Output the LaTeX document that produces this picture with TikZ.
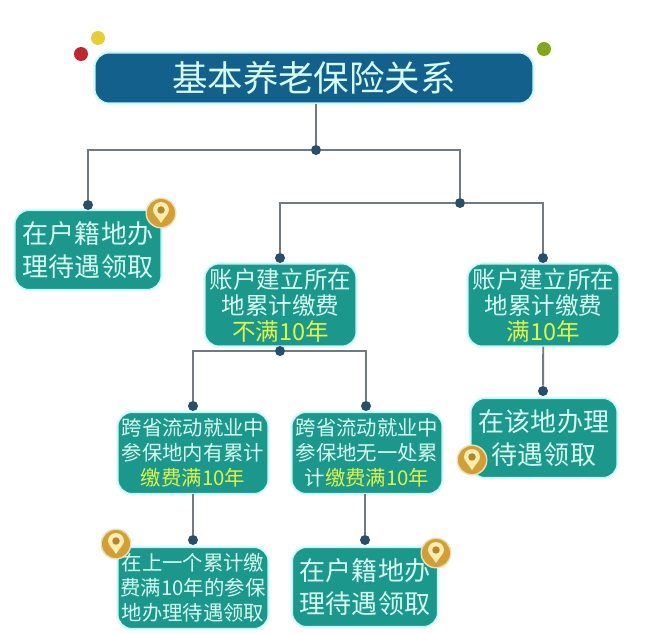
\documentclass[tikz,border=0pt]{standalone}
\usepackage{fontspec}
\setmainfont{Noto Sans CJK SC}
\usetikzlibrary{positioning}
\definecolor{navy}{RGB}{19,96,140}
\definecolor{teal}{RGB}{27,151,140}
\definecolor{glow}{RGB}{150,238,238}
\definecolor{mint}{RGB}{214,252,240}
\definecolor{lime}{RGB}{222,245,70}
\definecolor{wire}{RGB}{112,122,128}
\definecolor{knob}{RGB}{40,78,105}
\definecolor{gold}{RGB}{208,160,55}
\definecolor{cream}{RGB}{252,236,175}
\definecolor{cherry}{RGB}{190,40,45}
\definecolor{sun}{RGB}{230,205,50}
\definecolor{leaf}{RGB}{130,165,30}
\newcommand{\hl}[1]{\textcolor{lime}{#1}}
\tikzset{
  card/.style={draw=glow!60,fill=teal,text=mint,rounded corners=8pt,line width=0.6pt,
    preaction={draw=glow!25,line width=2.4pt},
    minimum width=#1,align=center,inner sep=0pt},
  card/.default=3cm,
  big/.style={font=\fontsize{14.8}{18.6}\selectfont,minimum height=1.58cm},
  mid/.style={font=\fontsize{13.4}{14.8}\selectfont,minimum height=1.64cm},
  small/.style={font=\fontsize{11.6}{14.2}\selectfont,minimum height=1.62cm},
  knob/.style={circle,fill=knob,inner sep=0pt,minimum size=0.2cm},
  wire/.style={draw=wire,line width=1.1pt},
  ball/.style={circle,fill=#1,inner sep=0pt,minimum size=0.28cm},
  % pictograms
  pics/pin/.style={code={
    \fill[gold!35] (0,0) circle (0.31);
    \fill[gold] (0,0) circle (0.28);
    \fill[cream] (0,-0.2) .. controls (-0.07,-0.08) and (-0.16,-0.02) .. (-0.16,0.06)
      arc (180:0:0.16) .. controls (0.16,-0.02) and (0.07,-0.08) .. (0,-0.2);
    \fill[gold!85!black] (0,0.06) circle (0.075);
  }},
}
\begin{document}
\begin{tikzpicture}
    \useasboundingbox (0,0) rectangle (12.92,12.66);
    % title
    \node[ball=cherry] (red) at (1.62,11.58) {};
    \node[ball=sun] (yellow) at (1.96,11.90) {};
    \node[ball=leaf] (green) at (10.88,11.68) {};
    \node[card=8.76cm,fill=navy,minimum height=1cm,font=\fontsize{20.2}{24}\selectfont] (title) at (6.28,11.10) {基本养老保险关系};
    % boxes
    \node[card=2.92cm,big] (home) at (1.76,7.66) {在户籍地办\\理待遇领取};
    \node[card=3.02cm,mid] (under) at (5.61,6.56) {账户建立所在\\地累计缴费\\\hl{不满10年}};
    \node[card=3.02cm,mid] (full) at (10.87,6.56) {账户建立所在\\地累计缴费\\\hl{满10年}};
    \node[card,small] (has) at (3.86,3.60) {跨省流动就业中\\参保地内有累计\\\hl{缴费满10年}};
    \node[card,small] (none) at (7.34,3.60) {跨省流动就业中\\参保地无一处累\\计\hl{缴费满10年}};
    \node[card,small] (last) at (3.86,0.90) {在上一个累计缴\\费满10年的参保\\地办理待遇领取};
    \node[card=2.9cm,big] (home2) at (7.30,0.92) {在户籍地办\\理待遇领取};
    \node[card=2.92cm,big] (here) at (10.88,3.90) {在该地办理\\待遇领取};
    % junctions
    \node[knob] (kTop) at (6.32,9.66) {};
    \node[knob] (kHome) at (1.76,8.56) {};
    \node[knob] (kSplit) at (9.20,8.60) {};
    \node[knob] (kUnder) at (5.60,7.50) {};
    \node[knob] (kFull) at (10.86,7.50) {};
    \node[knob] (kBase) at (5.60,5.64) {};
    \node[knob] (kHas) at (3.86,4.54) {};
    \node[knob] (kNone) at (7.32,4.54) {};
    \node[knob] (kHere) at (10.86,4.84) {};
    \node[knob] (kLast) at (3.86,1.86) {};
    \node[knob] (kHome2) at (7.30,1.86) {};
    % wires
    \draw[wire] (title.south -| kTop) -- (kTop);
    \draw[wire] (kTop) -| (kHome);
    \draw[wire] (kTop) -| (kSplit);
    \draw[wire] (kSplit) -| (kUnder);
    \draw[wire] (kSplit) -| (kFull);
    \draw[wire] (kBase) -| (kHas);
    \draw[wire] (kBase) -| (kNone);
    \draw[wire] (full) -- (kHere);
    \draw[wire] (has) -- (kLast);
    \draw[wire] (none.south -| kHome2) -- (kHome2);
    % pins
    \pic at (3.22,8.40) {pin};
    \pic at (2.32,1.78) {pin};
    \pic at (8.72,1.60) {pin};
    \pic at (9.44,3.46) {pin};
\end{tikzpicture}
\end{document}
